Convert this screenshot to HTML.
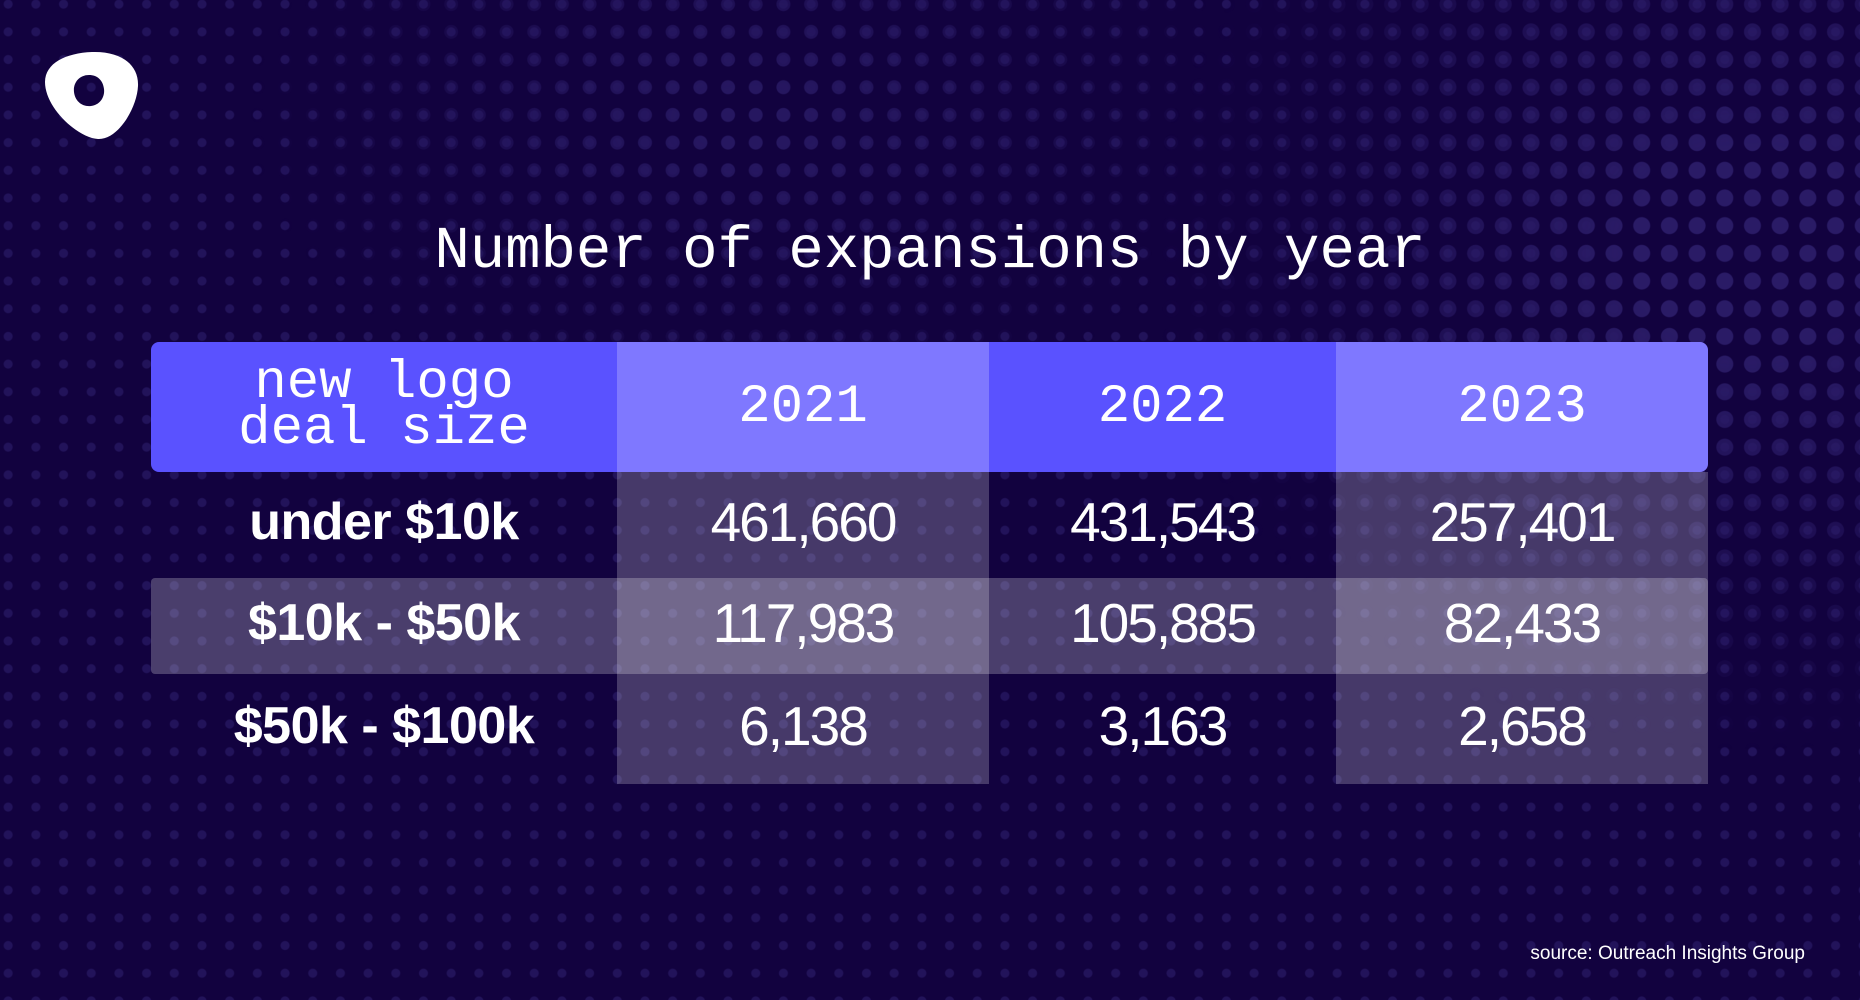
<!DOCTYPE html>
<html><head><meta charset="utf-8"><style>
html,body{margin:0;padding:0;}
body{width:1860px;height:1000px;background:#12023f;position:relative;overflow:hidden;font-family:"Liberation Sans",sans-serif;}
.dots{position:absolute;left:0;top:0;width:1860px;height:1000px;
background-image:radial-gradient(circle,#22135a 4px,transparent 5px);background-size:27.7px 27.7px;background-position:22px 18px;}
.dots2{position:absolute;left:0;top:0;width:1860px;height:1000px;
background-image:radial-gradient(circle,#2a1b66 8px,transparent 9px);background-size:27.7px 27.7px;background-position:22px 18px;
-webkit-mask-image:radial-gradient(ellipse 600px 500px at 1750px 250px,#000 20%,transparent 100%);mask-image:radial-gradient(ellipse 600px 500px at 1750px 250px,#000 20%,transparent 100%);}
.dots3{position:absolute;left:0;top:0;width:1860px;height:1000px;
background-image:radial-gradient(circle,#261760 6.5px,transparent 7.5px);background-size:27.7px 27.7px;background-position:22px 18px;
-webkit-mask-image:radial-gradient(ellipse 500px 300px at 750px 120px,#000 10%,transparent 100%);mask-image:radial-gradient(ellipse 500px 300px at 750px 120px,#000 10%,transparent 100%);}
.c{position:absolute;display:flex;align-items:center;justify-content:center;color:#fff;text-align:center;}
.h{font-family:"Liberation Mono",monospace;font-size:54px;}
.n{font-size:55px;letter-spacing:-2px;padding-bottom:6px;box-sizing:border-box;}
.l{font-size:52px;font-weight:bold;letter-spacing:-0.5px;padding-bottom:6px;box-sizing:border-box;}
.t{position:absolute;left:0;width:1860px;top:218px;text-align:center;color:#fff;font-family:"Liberation Mono",monospace;font-size:59px;}
</style></head><body>
<div class="dots"></div><div class="dots3"></div><div class="dots2"></div>
<svg style="position:absolute;left:42px;top:50px" width="98" height="92" viewBox="0 0 98 92">
<path fill="#fff" fill-rule="evenodd" d="M50 2 C78 1 97 14 96 36 C95 58 76 90 56 89 C36 88 3 58 3 32 C3 13 24 3 50 2 Z M47 25 C37 25 31 33 32 42 C33 51 40 57 49 56 C58 55 63 47 62 39 C61 30 55 25 47 25 Z"/>
</svg>
<div class="t">Number of expansions by year</div>
<div class="c h" style="left:151px;top:342px;width:466px;height:130px;background:#5a52ff;border-radius:8px 0 0 8px;line-height:46px;">new logo<br>deal size</div>
<div class="c h" style="left:617px;top:342px;width:372px;height:130px;background:#7f78ff;">2021</div>
<div class="c h" style="left:989px;top:342px;width:347px;height:130px;background:#5a52ff;">2022</div>
<div class="c h" style="left:1336px;top:342px;width:372px;height:130px;background:#7f78ff;border-radius:0 8px 8px 0;">2023</div>
<div style="position:absolute;left:617px;top:472px;width:372px;height:312px;background:rgba(255,255,255,0.22)"></div>
<div style="position:absolute;left:1336px;top:472px;width:372px;height:312px;background:rgba(255,255,255,0.22)"></div>
<div style="position:absolute;left:151px;top:578px;width:1557px;height:96px;background:rgba(255,255,255,0.24);border-radius:4px"></div>
<div class="c l" style="left:151px;top:472px;width:466px;height:106px;">under $10k</div>
<div class="c n" style="left:617px;top:472px;width:372px;height:106px;">461,660</div>
<div class="c n" style="left:989px;top:472px;width:347px;height:106px;">431,543</div>
<div class="c n" style="left:1336px;top:472px;width:372px;height:106px;">257,401</div>
<div class="c l" style="left:151px;top:578px;width:466px;height:96px;">$10k - $50k</div>
<div class="c n" style="left:617px;top:578px;width:372px;height:96px;">117,983</div>
<div class="c n" style="left:989px;top:578px;width:347px;height:96px;">105,885</div>
<div class="c n" style="left:1336px;top:578px;width:372px;height:96px;">82,433</div>
<div class="c l" style="left:151px;top:674px;width:466px;height:110px;">$50k - $100k</div>
<div class="c n" style="left:617px;top:674px;width:372px;height:110px;">6,138</div>
<div class="c n" style="left:989px;top:674px;width:347px;height:110px;">3,163</div>
<div class="c n" style="left:1336px;top:674px;width:372px;height:110px;">2,658</div>
<div style="position:absolute;right:55px;top:943px;color:#fff;font-size:19px;">source: Outreach Insights Group</div>
</body></html>
